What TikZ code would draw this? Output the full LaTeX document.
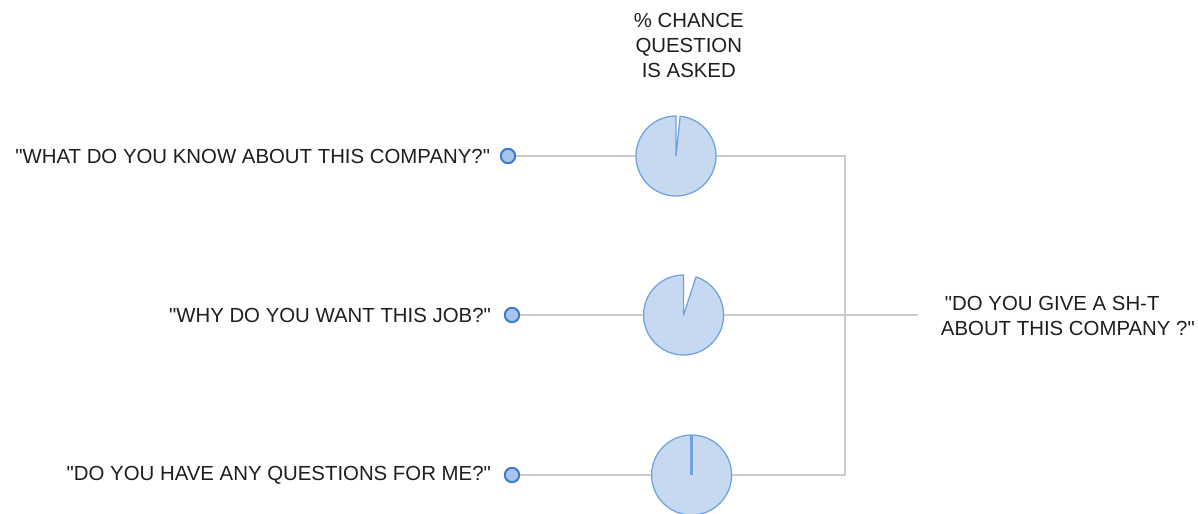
\documentclass[tikz,border=0pt]{standalone}
\usepackage{fontspec}
\setmainfont{Liberation Sans}[Ligatures=TeXOff]
\usetikzlibrary{positioning,calc}
\definecolor{piefill}{RGB}{198,217,240}
\definecolor{pieline}{RGB}{112,162,222}
\definecolor{dotfill}{RGB}{168,196,236}
\definecolor{dotline}{RGB}{62,122,200}
\definecolor{wire}{RGB}{204,204,204}
\definecolor{ink}{RGB}{30,30,30}
\begin{document}
\begin{tikzpicture}[font=\fontsize{14.5}{17.8}\selectfont, text=ink,
    dot/.style={circle,fill=dotfill,draw=dotline,line width=1.4pt,minimum size=0.36cm,inner sep=0},
    slot/.style={circle,minimum size=2cm,inner sep=0},
    pie/.style={fill=piefill,draw=pieline,line width=0.9pt,line join=round},
    wire/.style={draw=wire,line width=1pt}]
              \useasboundingbox (0,0) rectangle (29.95,12.85);
              \node[align=center] (head) at (17.22,11.72) {\%~CHANCE\\QUESTION\\IS ASKED};

              \node[dot] (d1) at (12.7,8.95) {};
              \node[dot] (d2) at (12.8,4.975) {};
              \node[dot] (d3) at (12.8,0.975) {};

              \node[left=0.12cm of d1] (q1) {"WHAT DO YOU KNOW ABOUT THIS COMPANY?"};
              \node[left=0.2cm of d2] (q2) {"WHY DO YOU WANT THIS JOB?"};
              \node[left=0.2cm of d3] (q3) {"DO YOU HAVE ANY QUESTIONS FOR ME?"};

              \node[slot] (p1) at (16.9,8.95) {};
              \node[slot] (p2) at (17.09,4.975) {};
              \node[slot] (p3) at (17.29,0.975) {};

              \coordinate (j1) at (21.125,8.95);
              \coordinate (j3) at (21.125,0.975);
              \coordinate (j2) at (22.95,4.975);
              \node[align=left,anchor=west] (ans) at (23.4,4.96) {\hspace{0.1cm}"DO YOU GIVE A SH-T\\ABOUT THIS COMPANY ?"};

              \draw[wire] (d1) -- (p1);
              \draw[wire] (d2) -- (p2);
              \draw[wire] (d3) -- (p3);
              \draw[wire] (p1) -- (j1) -- (j3) -- (p3);
              \draw[wire] (p2) -- (j2);

              \draw[pie] (p1.center) -- ++(84:1) arc[start angle=84,end angle=-270,radius=1] -- cycle;
              \draw[pie] (p2.center) -- ++(72:1) arc[start angle=72,end angle=-270,radius=1] -- cycle;
              \draw[pie] (p3.center) circle[radius=1];
              \draw[pie,line width=1.6pt] (p3.center) -- (p3.north);
            \end{tikzpicture}
\end{document}
